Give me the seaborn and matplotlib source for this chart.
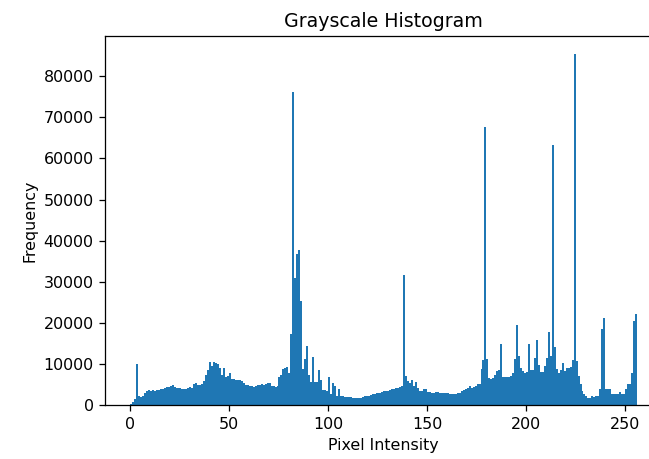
import numpy as np
import matplotlib
matplotlib.use("Agg")
import matplotlib.pyplot as plt
import seaborn as sns

# pixel intensity levels and counts
intensity = np.arange(256)
counts = [
    400, 800, 1500, 10000, 2300, 2100, 2400, 3100, 3600, 3700,
    3500, 3700, 3500, 3700, 3700, 3900, 4000, 4300, 4400, 4400,
    4700, 4900, 4500, 4300, 4200, 4200, 4000, 3900, 4100, 4300,
    4500, 4300, 5200, 5400, 5000, 4900, 5100, 6000, 7300, 8500,
    10500, 9700, 10500, 10400, 10000, 9000, 7500, 9000, 7000, 7200,
    7800, 6500, 6400, 6200, 6200, 6100, 6000, 5500, 4900, 4900,
    4700, 4700, 4600, 4700, 5000, 5000, 5100, 5000, 5100, 5500,
    5500, 4700, 4700, 4600, 4700, 7000, 7500, 8900, 9000, 9400,
    8000, 17300, 76200, 31000, 36700, 37700, 25400, 8900, 11300, 14500,
    7300, 5600, 11700, 5600, 5600, 8600, 6200, 3800, 3800, 3600,
    7000, 2800, 5400, 4800, 2400, 4000, 2400, 2400, 2000, 2000,
    2000, 2000, 1900, 1900, 1900, 1900, 1900, 2100, 2300, 2400,
    2400, 2500, 2800, 2900, 3000, 3100, 3100, 3200, 3400, 3500,
    3600, 3800, 3900, 4000, 4200, 4300, 4500, 4800, 31700, 7100,
    5900, 5500, 6300, 4800, 5700, 4300, 3600, 3500, 4000, 3900,
    3300, 3200, 3100, 3100, 3200, 3200, 3100, 3100, 3100, 3000,
    3000, 2800, 2800, 2800, 2800, 3000, 3100, 3500, 3700, 3900,
    4300, 4800, 4300, 4600, 4800, 5100, 5300, 8900, 11100, 67600,
    11300, 6700, 6500, 6600, 7300, 8300, 8700, 15000, 6900, 6900,
    6900, 7000, 7100, 7900, 11300, 19600, 11900, 9100, 8300, 7900,
    8100, 15000, 8500, 8600, 11500, 15800, 9900, 8100, 8100, 9500,
    11500, 17800, 12100, 63200, 14200, 8900, 7900, 8500, 10300, 8300,
    9100, 9100, 9300, 11100, 85400, 10700, 7100, 5300, 3500, 2900,
    2300, 1900, 1900, 2300, 2100, 2400, 2400, 3900, 18600, 21200,
    4000, 4000, 4000, 2900, 2900, 2900, 2900, 3200, 2900, 2900,
    3900, 5100, 5100, 7900, 20600, 22300,
]

# reference looks rendered at a slightly higher dpi than 100
dpi = 114
fig = plt.figure(figsize=(649 / dpi, 459 / dpi), dpi=dpi)
ax = fig.add_axes([0.1612, 0.1166, 0.8593, 0.8044])

sns.histplot(x=intensity, weights=counts, bins=256, binrange=(0, 256),
             color="#1f77b4", alpha=1, linewidth=0, ax=ax)

ax.set_xlim(-12.8, 268.8)
ax.set_ylim(0, max(counts) * 1.05)
ax.set_title("Grayscale Histogram")
ax.set_xlabel("Pixel Intensity")
ax.set_ylabel("Frequency")

fig.savefig("out.png", dpi=dpi)
